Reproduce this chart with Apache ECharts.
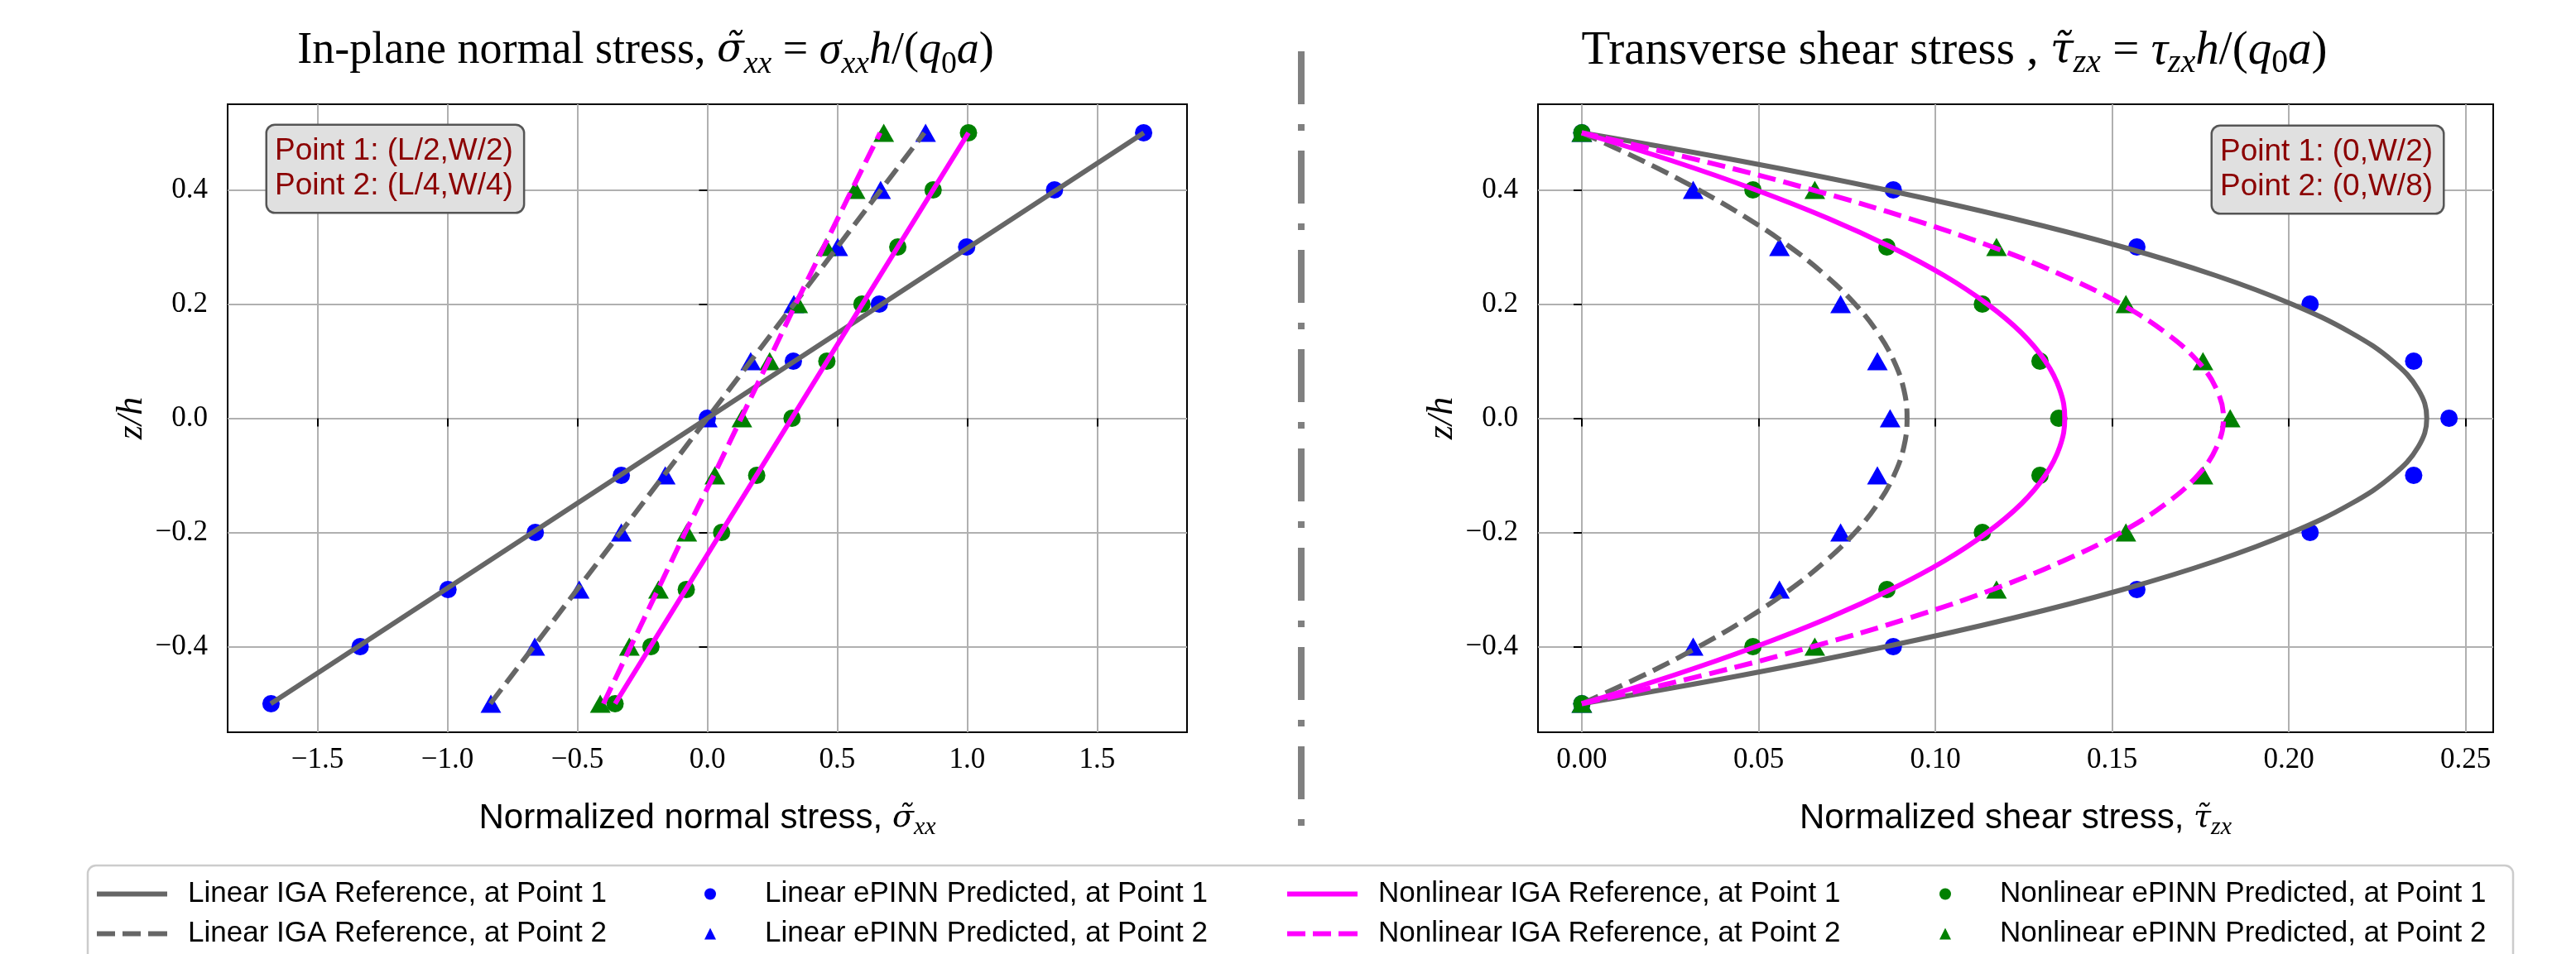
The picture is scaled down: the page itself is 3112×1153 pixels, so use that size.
<!DOCTYPE html>
<html>
<head>
<meta charset="utf-8">
<script src="https://cdn.jsdelivr.net/npm/echarts@6/dist/echarts.min.js"></script>
<style>
  html, body { margin: 0; padding: 0; background: #fff; }
  #chart { width: 3112px; height: 1153px; }
</style>
</head>
<body>
<div id="chart"></div>
<script>
// z/h stations of the ePINN predictions and of the straight reference lines
const zPts = [-0.5, -0.4, -0.3, -0.2, -0.1, 0, 0.1, 0.2, 0.3, 0.4, 0.5];
// finer stations for the curved shear references
const zFine = [-0.5, -0.45, -0.4, -0.35, -0.3, -0.25, -0.2, -0.15, -0.1, -0.05, 0,
               0.05, 0.1, 0.15, 0.2, 0.25, 0.3, 0.35, 0.4, 0.45, 0.5];

// in-plane normal stress (left panel)
const sxxLinIgaP1 = [-1.68, -1.344, -1.008, -0.672, -0.336, 0, 0.336, 0.672, 1.008, 1.344, 1.68];
const sxxLinIgaP2 = [-0.835, -0.668, -0.501, -0.334, -0.167, 0, 0.167, 0.334, 0.501, 0.668, 0.835];
const sxxNlIgaP1 = [-0.355, -0.219, -0.083, 0.053, 0.189, 0.325, 0.461, 0.597, 0.733, 0.869, 1.005];
const sxxNlIgaP2 = [-0.40, -0.295, -0.19, -0.085, 0.025, 0.13, 0.235, 0.34, 0.448, 0.556, 0.665];
const sxxLinPinnP1 = [-1.679, -1.336, -0.998, -0.662, -0.331, 0, 0.331, 0.662, 0.998, 1.336, 1.679];
const sxxLinPinnP2 = [-0.833, -0.664, -0.493, -0.331, -0.162, 0, 0.167, 0.333, 0.502, 0.667, 0.840];
const sxxNlPinnP1 = [-0.355, -0.217, -0.081, 0.055, 0.190, 0.326, 0.460, 0.595, 0.733, 0.869, 1.005];
const sxxNlPinnP2 = [-0.412, -0.300, -0.188, -0.079, 0.029, 0.133, 0.240, 0.348, 0.457, 0.569, 0.679];

// transverse shear stress (right panel)
const tauLinIgaP1 = [0, 0.0454, 0.086, 0.1219, 0.153, 0.1793, 0.2008, 0.2175, 0.2294, 0.2366, 0.239,
                     0.2366, 0.2294, 0.2175, 0.2008, 0.1793, 0.153, 0.1219, 0.086, 0.0454, 0];
const tauLinIgaP2 = [0, 0.0175, 0.0331, 0.0469, 0.0589, 0.069, 0.0773, 0.0837, 0.0883, 0.0911, 0.092,
                     0.0911, 0.0883, 0.0837, 0.0773, 0.069, 0.0589, 0.0469, 0.0331, 0.0175, 0];
const tauNlIgaP1 = [0, 0.026, 0.0492, 0.0697, 0.0874, 0.1025, 0.1147, 0.1243, 0.1311, 0.1352, 0.1366,
                    0.1352, 0.1311, 0.1243, 0.1147, 0.1025, 0.0874, 0.0697, 0.0492, 0.026, 0];
const tauNlIgaP2 = [0, 0.0345, 0.0653, 0.0926, 0.1162, 0.1361, 0.1525, 0.1651, 0.1742, 0.1796, 0.1815,
                    0.1796, 0.1742, 0.1651, 0.1525, 0.1361, 0.1162, 0.0926, 0.0653, 0.0345, 0];
const tauLinPinnP1 = [0, 0.0881, 0.157, 0.206, 0.2353, 0.2453, 0.2353, 0.206, 0.157, 0.0881, 0];
const tauLinPinnP2 = [0, 0.0315, 0.0559, 0.0732, 0.0836, 0.0872, 0.0836, 0.0732, 0.0559, 0.0315, 0];
const tauNlPinnP1 = [0, 0.0484, 0.0863, 0.1133, 0.1296, 0.1349, 0.1296, 0.1133, 0.0863, 0.0484, 0];
const tauNlPinnP2 = [0, 0.0659, 0.1173, 0.1539, 0.1757, 0.1834, 0.1757, 0.1539, 0.1173, 0.0659, 0];

// tick labels
const zTicks = [-0.4, -0.2, 0, 0.2, 0.4];
const sxxTicks = [-1.5, -1.0, -0.5, 0, 0.5, 1.0, 1.5];
const tauTicks = [0, 0.05, 0.10, 0.15, 0.20, 0.25];

const NAMES = {
  ligaP1: 'Linear IGA Reference, at Point 1',
  ligaP2: 'Linear IGA Reference, at Point 2',
  lpP1: 'Linear ePINN Predicted, at Point 1',
  lpP2: 'Linear ePINN Predicted, at Point 2',
  nigaP1: 'Nonlinear IGA Reference, at Point 1',
  nigaP2: 'Nonlinear IGA Reference, at Point 2',
  npP1: 'Nonlinear ePINN Predicted, at Point 1',
  npP2: 'Nonlinear ePINN Predicted, at Point 2'
};

const GRAY = '#666666', MAG = '#ff00ff', BLUE = '#0000ff', GREEN = '#008000';
const DASH = [22, 9.6];
const SERIF = 'Liberation Serif', SANS = 'Liberation Sans', MARK = 'DejaVu Serif';

const pairs = (xs, zs) => xs.map((x, i) => [x, zs[i]]);
const minus = s => s.replace('-', '\u2212');

function refLine(name, xs, zs, color, dashed, g, smooth) {
  return {
    name, type: 'line', xAxisIndex: g, yAxisIndex: g, data: pairs(xs, zs),
    symbol: 'none', smooth: smooth || false, color,
    lineStyle: { color, width: 6, type: dashed ? DASH : 'solid', cap: 'butt' },
    emphasis: { disabled: true }
  };
}
function pinn(name, xs, color, tri, g) {
  return {
    name, type: 'scatter', xAxisIndex: g, yAxisIndex: g, data: pairs(xs, zPts),
    symbol: tri ? 'triangle' : 'circle', symbolSize: tri ? [25, 22] : 21,
    itemStyle: { color, opacity: 1 }, color,
    emphasis: { disabled: true }
  };
}

function titleRich(size) {
  return {
    n: { fontFamily: SERIF, fontSize: size, lineHeight: 70 },
    i: { fontFamily: SERIF, fontSize: size, fontStyle: 'italic', lineHeight: 70 },
    t: { fontFamily: MARK, fontSize: size - 6, fontStyle: 'italic', lineHeight: 70 },
    s: { fontFamily: SERIF, fontSize: size * 0.7, fontStyle: 'italic', lineHeight: 32, verticalAlign: 'bottom' },
    s0: { fontFamily: SERIF, fontSize: size * 0.7, lineHeight: 32, verticalAlign: 'bottom' }
  };
}
const nameRich = {
  m: { fontFamily: MARK, fontSize: 38, fontStyle: 'italic', lineHeight: 52 },
  s: { fontFamily: SERIF, fontSize: 30, fontStyle: 'italic', lineHeight: 22, verticalAlign: 'bottom' }
};

function xAxisOf(g, min, max, ticks, fmt, name) {
  return {
    type: 'value', gridIndex: g, min, max,
    axisLine: { show: false },
    axisTick: { show: true, customValues: ticks, length: 10, lineStyle: { color: '#000', width: 2 } },
    axisLabel: { customValues: ticks, formatter: fmt, margin: 16, color: '#000', fontFamily: SERIF, fontSize: 35 },
    splitLine: { show: true, lineStyle: { color: '#b0b0b0', width: 2 } },
    name, nameLocation: 'middle', nameGap: 78,
    nameTextStyle: { fontFamily: SANS, fontSize: 42, color: '#000', lineHeight: 52, rich: nameRich }
  };
}
function yAxisOf(g) {
  return {
    type: 'value', gridIndex: g, min: -0.55, max: 0.55,
    axisLine: { show: false },
    axisTick: { show: true, customValues: zTicks, length: 10, lineStyle: { color: '#000', width: 2 } },
    axisLabel: { customValues: zTicks, formatter: v => minus(v.toFixed(1)), margin: 24, color: '#000', fontFamily: SERIF, fontSize: 35 },
    splitLine: { show: true, lineStyle: { color: '#b0b0b0', width: 2 } },
    name: 'z/h', nameLocation: 'middle', nameGap: 94,
    nameTextStyle: { fontFamily: SERIF, fontStyle: 'italic', fontSize: 44, color: '#000' }
  };
}

const series = [
  // left: normal stress
  refLine(NAMES.ligaP1, sxxLinIgaP1, zPts, GRAY, false, 0),
  refLine(NAMES.ligaP2, sxxLinIgaP2, zPts, GRAY, true, 0),
  pinn(NAMES.lpP1, sxxLinPinnP1, BLUE, false, 0),
  pinn(NAMES.lpP2, sxxLinPinnP2, BLUE, true, 0),
  refLine(NAMES.nigaP1, sxxNlIgaP1, zPts, MAG, false, 0),
  refLine(NAMES.nigaP2, sxxNlIgaP2, zPts, MAG, true, 0),
  pinn(NAMES.npP1, sxxNlPinnP1, GREEN, false, 0),
  pinn(NAMES.npP2, sxxNlPinnP2, GREEN, true, 0),
  // right: shear stress
  refLine(NAMES.ligaP1, tauLinIgaP1, zFine, GRAY, false, 1, 0.4),
  refLine(NAMES.ligaP2, tauLinIgaP2, zFine, GRAY, true, 1, 0.4),
  pinn(NAMES.lpP1, tauLinPinnP1, BLUE, false, 1),
  pinn(NAMES.lpP2, tauLinPinnP2, BLUE, true, 1),
  refLine(NAMES.nigaP1, tauNlIgaP1, zFine, MAG, false, 1, 0.4),
  refLine(NAMES.nigaP2, tauNlIgaP2, zFine, MAG, true, 1, 0.4),
  pinn(NAMES.npP1, tauNlPinnP1, GREEN, false, 1),
  pinn(NAMES.npP2, tauNlPinnP2, GREEN, true, 1)
];

const solidIcon = 'path://M0,0H85V6H0Z';
const dashIcon = 'path://M0,0H22V6H0Z M31,0H53V6H31Z M62,0H85V6H62Z';
const legendBase = {
  orient: 'vertical', top: 1063, itemGap: 13, padding: 0,
  selectedMode: false, z: 5,
  textStyle: { fontSize: 35, fontFamily: SANS, color: '#000', padding: [0, 0, 0, 20] }
};
// marker columns: a square icon box, text pushed out to line up with the line columns
const markerText = { fontSize: 35, fontFamily: SANS, color: '#000', padding: [0, 0, 0, 54] };

const chart = echarts.init(document.getElementById('chart'), null, { renderer: 'canvas' });
chart.setOption({
  animation: false,
  backgroundColor: '#ffffff',
  grid: [
    { left: 275, top: 126, width: 1159, height: 759, show: true, borderColor: '#000', borderWidth: 2, backgroundColor: 'transparent' },
    { left: 1858, top: 126, width: 1154, height: 759, show: true, borderColor: '#000', borderWidth: 2, backgroundColor: 'transparent' }
  ],
  xAxis: [
    xAxisOf(0, -1.846, 1.846, sxxTicks, v => minus(v.toFixed(1)), 'Normalized normal stress, {m|\u03c3\u0303}{s|xx}'),
    xAxisOf(1, -0.0124, 0.2578, tauTicks, v => v.toFixed(2), 'Normalized shear stress, {m|\u03c4\u0303}{s|zx}')
  ],
  yAxis: [yAxisOf(0), yAxisOf(1)],
  legend: [
    Object.assign({}, legendBase, { left: 117, itemWidth: 85, itemHeight: 6,
      data: [{ name: NAMES.ligaP1, icon: solidIcon }, { name: NAMES.ligaP2, icon: dashIcon }] }),
    Object.assign({}, legendBase, { left: 851, itemWidth: 14, itemHeight: 14, textStyle: markerText,
      data: [NAMES.lpP1, NAMES.lpP2] }),
    Object.assign({}, legendBase, { left: 1555, itemWidth: 85, itemHeight: 6,
      data: [{ name: NAMES.nigaP1, icon: solidIcon }, { name: NAMES.nigaP2, icon: dashIcon }] }),
    Object.assign({}, legendBase, { left: 2343, itemWidth: 14, itemHeight: 14, textStyle: markerText,
      data: [NAMES.npP1, NAMES.npP2] })
  ],
  graphic: [
    { type: 'rect', z: 1, shape: { x: 106, y: 1046, width: 2930, height: 160, r: 10 },
      style: { fill: 'rgba(255,255,255,0.8)', stroke: '#cccccc', lineWidth: 2.5 } },
    { type: 'line', z: 1, shape: { x1: 1572, y1: 62, x2: 1572, y2: 1003 },
      style: { stroke: '#808080', lineWidth: 8, lineDash: [64, 24, 8, 24] } },
    { type: 'text', z: 10, x: 780, y: 62,
      style: { text: 'In-plane normal stress, {t|\u03c3\u0303}{s|xx}{n| = }{i|\u03c3}{s|xx}{i|h}{n|/(}{i|q}{s0|0}{i|a}{n|)}',
        rich: titleRich(54), fontFamily: SERIF, fontSize: 54, lineHeight: 70, fill: '#000', align: 'center', verticalAlign: 'middle' } },
    { type: 'text', z: 10, x: 2361, y: 62,
      style: { text: 'Transverse shear stress , {t|\u03c4\u0303}{s|zx}{n| = }{i|\u03c4}{s|zx}{i|h}{n|/(}{i|q}{s0|0}{i|a}{n|)}',
        rich: titleRich(57), fontFamily: SERIF, fontSize: 57, lineHeight: 70, fill: '#000', align: 'center', verticalAlign: 'middle' } },
    { type: 'text', z: 10, x: 323, y: 152,
      style: { text: 'Point 1: (L/2,W/2)\nPoint 2: (L/4,W/4)', fontFamily: SANS, fontSize: 37, lineHeight: 42,
        fill: '#8b0000', backgroundColor: '#e0e0e0', borderColor: '#555555', borderWidth: 2.5, borderRadius: 9,
        padding: [10, 12, 10, 9], align: 'left', verticalAlign: 'top' } },
    { type: 'text', z: 10, x: 2673, y: 153,
      style: { text: 'Point 1: (0,W/2)\nPoint 2: (0,W/8)', fontFamily: SANS, fontSize: 37, lineHeight: 42,
        fill: '#8b0000', backgroundColor: '#e0e0e0', borderColor: '#555555', borderWidth: 2.5, borderRadius: 9,
        padding: [10, 12, 10, 9], align: 'left', verticalAlign: 'top' } }
  ],
  series
});
</script>
</body>
</html>
